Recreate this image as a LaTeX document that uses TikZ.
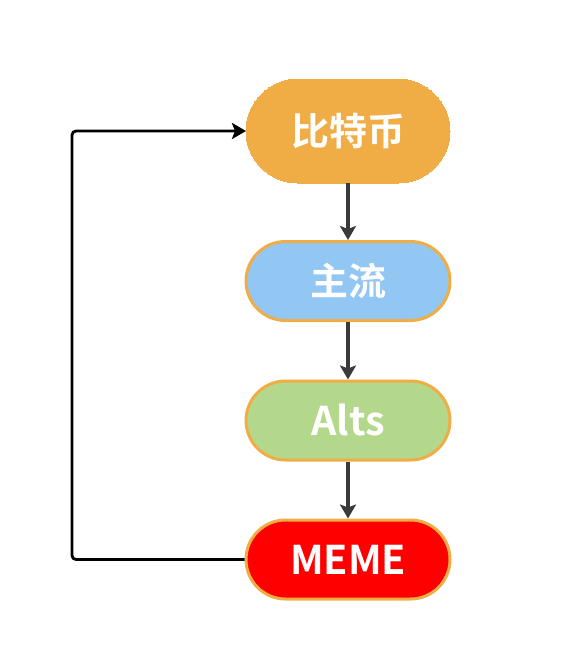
\documentclass[tikz,border=0pt]{standalone}
\usepackage{fontspec}
\setmainfont{Noto Sans CJK SC}[BoldFont={Noto Sans CJK SC Bold}]
\usetikzlibrary{arrows.meta}
\definecolor{orangeA}{HTML}{F0AD45}
\definecolor{blueA}{HTML}{92C6F3}
\definecolor{greenA}{HTML}{B4D88B}
\definecolor{redA}{HTML}{FF0000}
\definecolor{arrowgray}{HTML}{3A3A3A}
\tikzset{
  pill/.style={rectangle, minimum width=204pt, minimum height=79pt, rounded corners=39.5pt,
    draw=orangeA, line width=3pt, text=white, font=\fontsize{38}{44}\selectfont\bfseries, inner sep=0pt},
  latinfont/.style={font=\fontsize{39.5}{44}\selectfont\bfseries},
  flowarrow/.style={draw=arrowgray, line width=3.2pt, -{Stealth[length=14pt,width=16pt,inset=3pt]}},
  backarrow/.style={draw=black, line width=2.8pt, rounded corners=4pt, -{Stealth[length=14pt,width=16pt,inset=3pt]}}
}
\begin{document}
\begin{tikzpicture}[x=1pt,y=-1pt]
\useasboundingbox (0,0) rectangle (574,672);
\node[pill, fill=orangeA, line width=0pt, minimum width=204pt, minimum height=104pt, rounded corners=52pt] (btc) at (348,131) {比特币};
\node[pill, fill=blueA] (main) at (348,281) {主流};
\node[pill, fill=greenA, latinfont] (alts) at (348,420.5) {Alts};
\node[pill, fill=redA, latinfont] (meme) at (348,559.5) {MEME};
\draw[flowarrow] (btc.south) -- (main.north);
\draw[flowarrow] (main.south) -- (alts.north);
\draw[flowarrow] (alts.south) -- (meme.north);
\coordinate (bl) at (72,559.5);
\coordinate (tl) at (72,131);
\draw[backarrow] (meme.west) -- (bl) -- (tl) -- (btc.west);
\end{tikzpicture}
\end{document}
